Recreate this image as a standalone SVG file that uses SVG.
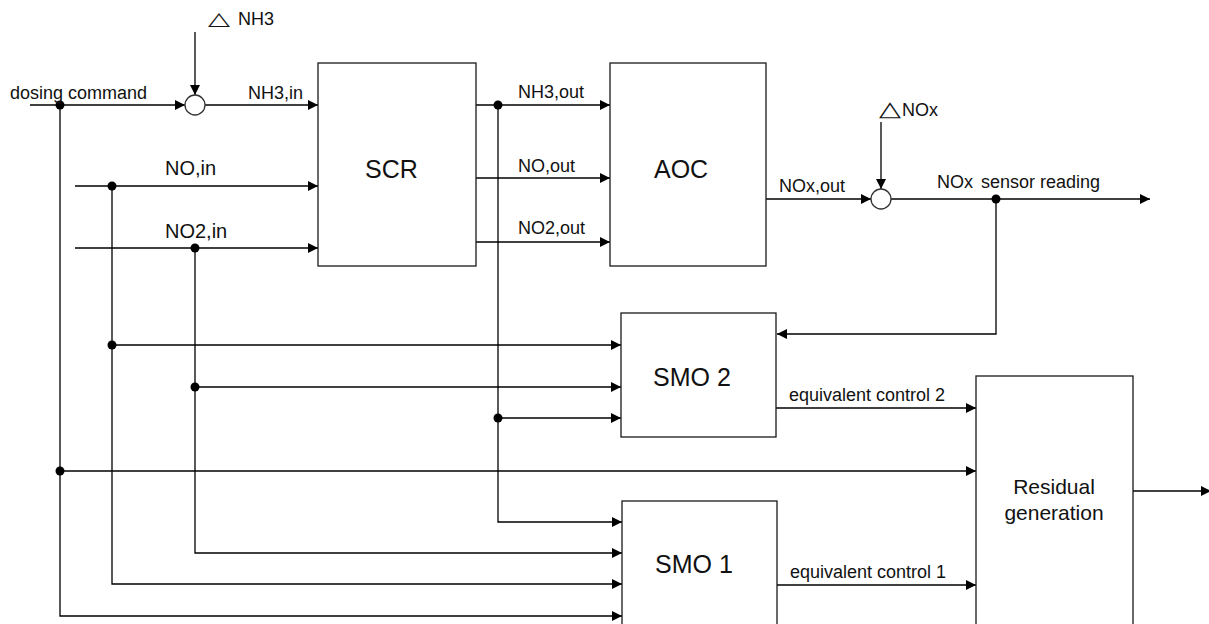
<svg xmlns="http://www.w3.org/2000/svg" width="1209" height="624" viewBox="0 0 1209 624">
<style>
.box{fill:#fff;stroke:#1a1a1a;stroke-width:1.3}
.ln{fill:none;stroke:#000;stroke-width:1.3}
.arr{marker-end:url(#ah)}
.sum{fill:#fff;stroke:#333;stroke-width:1.3}
.dot{fill:#000}
text{font-family:"Liberation Sans",Arial,sans-serif;fill:#111}
.s{font-size:18px}
.m{font-size:20px}
.l{font-size:25px}
.r{font-size:21px}
.tri{font-family:"DejaVu Sans",sans-serif;font-size:20px}
</style>
<defs>
<marker id="ah" viewBox="0 0 10 10" refX="10" refY="5" markerWidth="10" markerHeight="10" markerUnits="userSpaceOnUse" orient="auto">
<path d="M0,0 L10,5 L0,10 z" fill="#000"/>
</marker>
</defs>
<rect width="1209" height="624" fill="#fff"/>
<g id="connectors">
<path class="ln arr" d="M30,105 H185"/>
<path class="ln arr" d="M60,105 V616 H622"/>
<path class="ln arr" d="M60,471 H976"/>
<path class="ln arr" d="M195,32 V95"/>
<path class="ln arr" d="M205,105 H318"/>
<path class="ln arr" d="M75,186 H318"/>
<path class="ln arr" d="M75,248 H318"/>
<path class="ln arr" d="M112,186 V584 H622"/>
<path class="ln arr" d="M112,345 H621"/>
<path class="ln arr" d="M195,248 V553 H622"/>
<path class="ln arr" d="M195,387 H621"/>
<path class="ln arr" d="M476,105 H610"/>
<path class="ln arr" d="M498,105 V522 H622"/>
<path class="ln arr" d="M498,418 H621"/>
<path class="ln arr" d="M476,178 H610"/>
<path class="ln arr" d="M476,242 H610"/>
<path class="ln arr" d="M766,199 H871"/>
<path class="ln arr" d="M881,122 V189"/>
<path class="ln arr" d="M891,199 H1150"/>
<path class="ln arr" d="M996,199 V334 H777"/>
<path class="ln arr" d="M776,408 H976"/>
<path class="ln arr" d="M777,585 H976"/>
<path class="ln arr" d="M1133,491 H1211"/>
<circle class="dot" cx="60" cy="105" r="4.5"/>
<circle class="dot" cx="112" cy="186" r="4.5"/>
<circle class="dot" cx="195" cy="248" r="4.5"/>
<circle class="dot" cx="498" cy="105" r="4.5"/>
<circle class="dot" cx="996" cy="199" r="4.5"/>
<circle class="dot" cx="112" cy="345" r="4.5"/>
<circle class="dot" cx="195" cy="387" r="4.5"/>
<circle class="dot" cx="498" cy="418" r="4.5"/>
<circle class="dot" cx="60" cy="471" r="4.5"/>
<text class="s" x="10" y="99">dosing command</text>
<text class="s" x="248" y="99">NH3,in</text>
<text class="m" x="165" y="175">NO,in</text>
<text class="m" x="165" y="238">NO2,in</text>
<text class="s" x="518" y="98">NH3,out</text>
<text class="s" x="518" y="172">NO,out</text>
<text class="s" x="518" y="234">NO2,out</text>
<text class="s" x="779" y="192">NOx,out</text>
<text class="s" x="937" y="188">NOx<tspan dx="3"> sensor reading</tspan></text>
<text class="s" x="789" y="401">equivalent control 2</text>
<text class="s" x="790" y="578">equivalent control 1</text>
</g>
<g id="sum-nh3">
<circle class="sum" cx="195" cy="105" r="10"/>
<text class="tri" transform="translate(208,25) scale(1.43,0.92)">△</text>
<text class="s" x="238" y="25">NH3</text>
</g>
<g id="sum-nox">
<circle class="sum" cx="881" cy="199" r="10"/>
<text class="tri" transform="translate(879,116) scale(1.43,1.05)">△</text>
<text class="s" x="902" y="116">NOx</text>
</g>
<g id="scr">
<rect class="box" x="318" y="63" width="158" height="203"/>
<text class="l" x="365" y="178">SCR</text>
</g>
<g id="aoc">
<rect class="box" x="610" y="63" width="156" height="203"/>
<text class="l" x="654" y="178">AOC</text>
</g>
<g id="smo2">
<rect class="box" x="621" y="313" width="155" height="124"/>
<text class="l" x="653" y="386">SMO 2</text>
</g>
<g id="smo1">
<rect class="box" x="622" y="501" width="155" height="140"/>
<text class="l" x="655" y="573">SMO 1</text>
</g>
<g id="residual">
<rect class="box" x="976" y="376" width="157" height="270"/>
<text class="r" x="1054" y="494" text-anchor="middle">Residual</text>
<text class="r" x="1054" y="520" text-anchor="middle">generation</text>
</g>
</svg>
